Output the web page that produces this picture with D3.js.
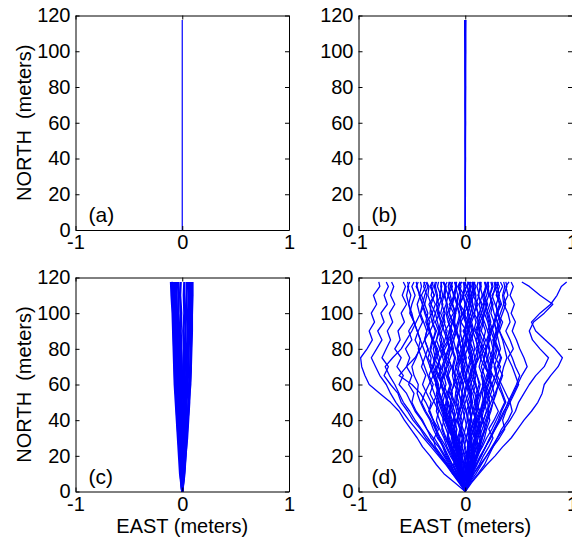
<!DOCTYPE html>
<html>
<head>
<meta charset="utf-8">
<script src="https://cdn.jsdelivr.net/npm/d3@7"></script>
<style>
  html, body { margin: 0; padding: 0; background: #fff; }
  svg { display: block; font-family: "Liberation Sans", Arial, sans-serif; }
</style>
</head>
<body>
<script>
// ---------------- data ----------------
const eastTicks = [-1, 0, 1];
const northTicks = [0, 20, 40, 60, 80, 100, 120];
const panelLabels = ["(a)", "(b)", "(c)", "(d)"];
const eastTitle = "EAST (meters)";
const northTitle = "NORTH  (meters)";

// north positions (m) at which the east offsets are sampled
const coarseLevels = [0, 10, 20, 30, 40, 50, 60, 70, 80, 90, 100, 110, 117.5];
const fineLevels = [0, 5, 10, 15, 20, 25, 30, 35, 40, 45, 50, 55, 60, 65, 70, 75, 80, 85, 90, 95, 100, 105, 110, 115, 117.5];

// (a) east offsets (m), coarse levels
const tracksA = [
  [0, 0, 0, 0, 0, 0, 0, 0, 0, 0, 0, 0, 0]
];

// (b) east offsets (m), coarse levels
const tracksB = [
  [0, 0, 0, -0.001, -0.001, -0.002, -0.002, -0.003, -0.003, -0.004, -0.004, -0.005, -0.005],
  [0, 0, 0.001, 0.001, 0.002, 0.002, 0.003, 0.003, 0.004, 0.004, 0.005, 0.005, 0.006],
  [0, 0, 0, 0, 0.001, 0, 0.001, 0, 0.001, 0, 0.001, 0, 0.001]
];

// (c) east offsets (m), coarse levels
const tracksC = [
  [0, -0.02, -0.03, -0.04, -0.05, -0.06, -0.07, -0.075, -0.08, -0.085, -0.09, -0.1, -0.105],
  [0, 0.02, 0.03, 0.045, 0.055, 0.065, 0.07, 0.08, 0.085, 0.09, 0.09, 0.095, 0.095],
  [0, -0.015, -0.02, -0.03, -0.04, -0.05, -0.065, -0.07, -0.06, -0.075, -0.08, -0.085, -0.09],
  [0, 0.015, 0.025, 0.035, 0.05, 0.06, 0.065, 0.075, 0.08, 0.075, 0.085, 0.09, 0.085],
  [0, -0.01, -0.015, -0.02, -0.03, -0.035, -0.045, -0.05, -0.055, -0.06, -0.065, -0.07, -0.075],
  [0, 0.01, 0.02, 0.025, 0.035, 0.04, 0.05, 0.055, 0.06, 0.065, 0.07, 0.075, 0.08],
  [0, -0.005, -0.01, -0.015, -0.02, -0.025, -0.03, -0.035, -0.04, -0.045, -0.05, -0.055, -0.06],
  [0, 0.005, 0.01, 0.015, 0.02, 0.03, 0.035, 0.04, 0.045, 0.05, 0.055, 0.06, 0.065],
  [0, 0, -0.005, -0.01, -0.01, -0.015, -0.02, -0.02, -0.025, -0.03, -0.035, -0.035, -0.04],
  [0, 0.005, 0.005, 0.01, 0.01, 0.015, 0.02, 0.025, 0.025, 0.03, 0.035, 0.04, 0.045],
  [0, 0, 0, -0.005, 0, -0.005, -0.01, -0.005, -0.01, -0.015, -0.01, -0.02, -0.015],
  [0, 0, 0.005, 0, 0.005, 0.01, 0.005, 0.01, 0.015, 0.01, 0.02, 0.015, 0.02],
  [0, -0.01, -0.02, -0.035, -0.045, -0.055, -0.06, -0.065, -0.075, -0.08, -0.075, -0.09, -0.1],
  [0, 0.015, 0.03, 0.04, 0.05, 0.06, 0.075, 0.08, 0.08, 0.085, 0.09, 0.09, 0.09]
];

// (d) east offsets (m), fine levels
const tracksD = [
  [0,-0.1,-0.2,-0.27,-0.33,-0.4,-0.45,-0.51,-0.57,-0.62,-0.7,-0.8,-0.9,-0.94,-0.97,-0.98,-0.92,-0.87,-0.9,-0.85,-0.88,-0.83,-0.86,-0.8,-0.81],
  [0,-0.05,-0.12,-0.17,-0.24,-0.3,-0.37,-0.42,-0.49,-0.54,-0.6,-0.63,-0.7,-0.76,-0.72,-0.78,-0.74,-0.7,-0.73,-0.68,-0.71,-0.66,-0.7,-0.67,-0.69],
  [0,-0.04,-0.09,-0.15,-0.2,-0.25,-0.32,-0.36,-0.41,-0.47,-0.51,-0.55,-0.62,-0.58,-0.64,-0.6,-0.66,-0.61,-0.63,-0.57,-0.6,-0.55,-0.59,-0.56,-0.58],
  [0,0.06,0.13,0.2,0.28,0.35,0.43,0.49,0.55,0.62,0.68,0.72,0.74,0.8,0.87,0.91,0.84,0.75,0.66,0.62,0.7,0.8,0.86,0.9,0.95],
  [0,0.04,0.1,0.15,0.2,0.26,0.3,0.36,0.42,0.47,0.5,0.55,0.6,0.66,0.74,0.78,0.7,0.63,0.6,0.64,0.74,0.82,0.7,0.6,0.53],
  [0,0.03,0.08,0.14,0.2,0.25,0.3,0.34,0.4,0.44,0.42,0.46,0.5,0.47,0.44,0.4,0.45,0.42,0.38,0.42,0.4,0.36,0.4,0.38,0.41],
  [0,0.05,0.12,0.18,0.22,0.26,0.32,0.37,0.35,0.38,0.42,0.38,0.34,0.3,0.33,0.28,0.3,0.26,0.3,0.27,0.31,0.28,0.25,0.3,0.28],
  [0,-0.04,-0.1,-0.16,-0.22,-0.28,-0.3,-0.36,-0.4,-0.46,-0.5,-0.48,-0.53,-0.5,-0.55,-0.52,-0.56,-0.5,-0.53,-0.48,-0.52,-0.5,-0.47,-0.5,-0.48],
  [0,-0.03,-0.07,-0.12,-0.16,-0.2,-0.26,-0.3,-0.33,-0.38,-0.42,-0.45,-0.44,-0.48,-0.5,-0.46,-0.43,-0.47,-0.44,-0.4,-0.43,-0.45,-0.42,-0.46,-0.44],
  [0,-0.05,-0.1,-0.13,-0.18,-0.21,-0.25,-0.28,-0.3,-0.34,-0.32,-0.36,-0.4,-0.37,-0.41,-0.38,-0.35,-0.38,-0.36,-0.33,-0.37,-0.4,-0.38,-0.35,-0.37],
  [0,-0.02,-0.06,-0.09,-0.13,-0.17,-0.2,-0.24,-0.27,-0.25,-0.29,-0.33,-0.3,-0.34,-0.31,-0.35,-0.32,-0.3,-0.33,-0.29,-0.31,-0.28,-0.32,-0.3,-0.31],
  [0,-0.03,-0.05,-0.1,-0.12,-0.15,-0.19,-0.22,-0.2,-0.24,-0.27,-0.25,-0.28,-0.26,-0.3,-0.27,-0.24,-0.27,-0.25,-0.28,-0.24,-0.27,-0.23,-0.26,-0.25],
  [0,-0.02,-0.04,-0.07,-0.1,-0.13,-0.12,-0.16,-0.19,-0.17,-0.21,-0.19,-0.23,-0.2,-0.22,-0.19,-0.23,-0.2,-0.24,-0.21,-0.19,-0.22,-0.2,-0.18,-0.21],
  [0,-0.01,-0.04,-0.06,-0.09,-0.08,-0.11,-0.14,-0.12,-0.15,-0.13,-0.17,-0.14,-0.16,-0.13,-0.16,-0.14,-0.17,-0.15,-0.12,-0.15,-0.13,-0.16,-0.14,-0.15],
  [0,-0.02,-0.03,-0.05,-0.07,-0.06,-0.09,-0.08,-0.1,-0.12,-0.1,-0.13,-0.11,-0.09,-0.12,-0.1,-0.13,-0.11,-0.08,-0.11,-0.09,-0.12,-0.1,-0.08,-0.1],
  [0,-0.01,-0.02,-0.04,-0.03,-0.05,-0.07,-0.05,-0.08,-0.06,-0.09,-0.07,-0.05,-0.08,-0.06,-0.04,-0.07,-0.05,-0.08,-0.06,-0.03,-0.06,-0.04,-0.07,-0.05],
  [0,0.01,-0.01,-0.02,0,-0.03,-0.01,-0.04,-0.02,0,-0.03,-0.01,0.01,-0.02,0,-0.03,-0.01,0.02,-0.01,0.01,-0.02,0,0.02,-0.01,0],
  [0,0.01,0.03,0.02,0.04,0.03,0.05,0.03,0.06,0.04,0.02,0.05,0.03,0.06,0.04,0.07,0.05,0.03,0.06,0.04,0.07,0.05,0.03,0.05,0.04],
  [0,0.02,0.03,0.05,0.07,0.06,0.09,0.08,0.11,0.09,0.12,0.1,0.13,0.11,0.09,0.12,0.1,0.13,0.11,0.14,0.12,0.1,0.13,0.11,0.12],
  [0,0.02,0.05,0.07,0.1,0.12,0.11,0.14,0.16,0.14,0.17,0.19,0.16,0.18,0.15,0.18,0.2,0.17,0.19,0.16,0.18,0.21,0.18,0.2,0.19],
  [0,0.03,0.06,0.09,0.12,0.15,0.18,0.2,0.23,0.21,0.24,0.27,0.25,0.22,0.25,0.23,0.26,0.24,0.21,0.24,0.22,0.25,0.23,0.26,0.25],
  [0,0.03,0.07,0.11,0.15,0.19,0.23,0.27,0.31,0.34,0.38,0.35,0.32,0.35,0.31,0.34,0.3,0.27,0.31,0.33,0.3,0.34,0.31,0.35,0.33],
  [0,-0.02,0.01,-0.01,0.02,0.04,0.01,-0.02,-0.05,-0.03,0,0.03,0.01,-0.02,-0.04,-0.01,0.02,0.05,0.03,0,-0.03,-0.05,-0.02,0.01,0],
  [0,0.03,0.05,0.04,0.07,0.06,0.03,0.05,0.08,0.11,0.09,0.12,0.1,0.07,0.09,0.13,0.15,0.12,0.1,0.14,0.17,0.15,0.12,0.14,0.13],
  [0,-0.03,-0.02,-0.05,-0.04,-0.07,-0.09,-0.08,-0.11,-0.1,-0.13,-0.16,-0.14,-0.17,-0.15,-0.18,-0.21,-0.19,-0.17,-0.2,-0.23,-0.21,-0.24,-0.22,-0.23],
  [0,0.02,0.05,0.07,0.06,0.09,0.12,0.14,0.13,0.16,0.19,0.18,0.21,0.24,0.22,0.25,0.27,0.26,0.29,0.27,0.24,0.26,0.23,0.25,0.24],
  [0,-0.02,-0.04,-0.03,-0.06,-0.09,-0.11,-0.1,-0.13,-0.16,-0.18,-0.17,-0.2,-0.23,-0.25,-0.24,-0.27,-0.3,-0.28,-0.31,-0.33,-0.32,-0.35,-0.34,-0.36],
  [0,0.02,0.05,0.09,0.06,0.11,0.15,0.12,0.17,0.14,0.1,0.13,0.09,0.05,0.08,0.03,0.07,0.02,-0.02,0.03,-0.01,0.04,0,0.05,0.02],
  [0,-0.03,-0.07,-0.11,-0.08,-0.13,-0.17,-0.14,-0.19,-0.15,-0.11,-0.14,-0.1,-0.06,-0.09,-0.04,-0.08,-0.03,0.01,-0.04,0,-0.05,-0.01,-0.06,-0.03],
  [0,0.04,0.08,0.13,0.17,0.22,0.26,0.22,0.27,0.31,0.27,0.23,0.19,0.23,0.18,0.14,0.18,0.13,0.09,0.13,0.08,0.12,0.07,0.1,0.08],
  [0,-0.04,-0.09,-0.14,-0.19,-0.24,-0.29,-0.25,-0.3,-0.34,-0.3,-0.26,-0.22,-0.26,-0.21,-0.17,-0.21,-0.16,-0.12,-0.16,-0.11,-0.15,-0.1,-0.14,-0.12],
  [0,0.03,0.06,0.1,0.15,0.19,0.24,0.28,0.33,0.37,0.4,0.44,0.48,0.51,0.47,0.44,0.4,0.36,0.32,0.35,0.3,0.33,0.29,0.32,0.3],
  [0,-0.05,-0.11,-0.17,-0.23,-0.29,-0.35,-0.41,-0.47,-0.52,-0.58,-0.62,-0.66,-0.71,-0.75,-0.68,-0.6,-0.55,-0.5,-0.46,-0.42,-0.38,-0.41,-0.37,-0.39],
  [0,-0.06,-0.12,-0.18,-0.25,-0.32,-0.39,-0.46,-0.53,-0.59,-0.65,-0.7,-0.74,-0.8,-0.84,-0.88,-0.83,-0.78,-0.82,-0.76,-0.79,-0.73,-0.76,-0.72,-0.74],
  [0,0.02,0.06,0.1,0.14,0.19,0.23,0.28,0.32,0.36,0.41,0.45,0.49,0.53,0.58,0.55,0.51,0.48,0.44,0.47,0.43,0.46,0.42,0.45,0.43],
  [0,0.01,0.04,0.08,0.11,0.16,0.2,0.25,0.29,0.33,0.37,0.34,0.3,0.26,0.22,0.2,0.16,0.19,0.15,0.17,0.13,0.16,0.12,0.15,0.14],
  [0,-0.02,-0.05,-0.09,-0.14,-0.18,-0.23,-0.28,-0.32,-0.37,-0.41,-0.38,-0.34,-0.3,-0.27,-0.23,-0.19,-0.15,-0.19,-0.14,-0.17,-0.13,-0.16,-0.12,-0.14],
  [0,0.01,0.02,0,0.01,0.03,0.05,0.04,0.02,0.03,0.06,0.05,0.03,0.04,0.07,0.06,0.04,0.02,0.03,0.01,-0.01,0,-0.02,-0.01,-0.02],
  [0,-0.01,-0.02,-0.01,-0.03,-0.04,-0.03,-0.05,-0.07,-0.06,-0.04,-0.06,-0.08,-0.1,-0.09,-0.07,-0.08,-0.06,-0.04,-0.05,-0.03,-0.05,-0.04,-0.06,-0.05],
  [0,0.02,0.04,0.03,0.06,0.08,0.07,0.1,0.08,0.11,0.09,0.07,0.1,0.08,0.06,0.09,0.07,0.04,0.08,0.06,0.09,0.07,0.05,0.08,0.06],
  [0,-0.02,-0.04,-0.07,-0.05,-0.09,-0.12,-0.1,-0.14,-0.18,-0.16,-0.2,-0.23,-0.21,-0.25,-0.29,-0.26,-0.3,-0.27,-0.31,-0.28,-0.32,-0.29,-0.33,-0.31],
  [0,0.02,0.01,0.04,0.03,0.06,0.05,0.08,0.06,0.04,0.07,0.05,0.08,0.1,0.08,0.11,0.13,0.1,0.14,0.12,0.15,0.18,0.16,0.2,0.18],
  [0,-0.03,-0.08,-0.12,-0.17,-0.2,-0.24,-0.27,-0.3,-0.33,-0.37,-0.42,-0.5,-0.62,-0.55,-0.47,-0.42,-0.38,-0.33,-0.36,-0.31,-0.34,-0.29,-0.32,-0.3],
  [0,0.02,0.04,0.07,0.09,0.08,0.1,0.13,0.12,0.15,0.18,0.2,0.19,0.22,0.2,0.17,0.15,0.16,0.13,0.11,0.12,0.09,0.1,0.08,0.09],
  [0,-0.02,-0.03,-0.06,-0.08,-0.07,-0.1,-0.13,-0.15,-0.14,-0.17,-0.19,-0.22,-0.24,-0.23,-0.26,-0.28,-0.31,-0.33,-0.35,-0.38,-0.4,-0.43,-0.45,-0.46],
  [0,0.01,0.03,0.06,0.05,0.08,0.1,0.09,0.12,0.15,0.17,0.16,0.19,0.21,0.24,0.27,0.26,0.29,0.31,0.3,0.33,0.36,0.35,0.37,0.36],
  [0,-0.01,0.01,0.03,0.02,0,-0.02,-0.04,-0.03,-0.06,-0.08,-0.07,-0.1,-0.12,-0.11,-0.09,-0.12,-0.14,-0.13,-0.16,-0.18,-0.17,-0.2,-0.19,-0.21],
  [0,0.02,0.01,-0.01,0.01,0.04,0.06,0.05,0.03,0.01,-0.01,-0.03,-0.02,-0.05,-0.07,-0.06,-0.04,-0.06,-0.09,-0.11,-0.1,-0.12,-0.11,-0.13,-0.12],
  [0,-0.02,-0.05,-0.07,-0.06,-0.04,-0.02,0,0.02,0.01,0.04,0.06,0.05,0.08,0.1,0.09,0.12,0.14,0.13,0.16,0.18,0.17,0.2,0.22,0.21],
  [0,0.03,0.06,0.08,0.11,0.14,0.13,0.16,0.19,0.22,0.21,0.24,0.27,0.3,0.28,0.25,0.22,0.2,0.23,0.21,0.18,0.2,0.17,0.19,0.18],
  [0,-0.03,-0.06,-0.09,-0.11,-0.14,-0.17,-0.16,-0.19,-0.22,-0.25,-0.24,-0.27,-0.3,-0.33,-0.32,-0.35,-0.38,-0.36,-0.39,-0.42,-0.4,-0.43,-0.41,-0.42],
  [0,0.01,0,0.02,0.04,0.03,0.01,0.03,0.05,0.07,0.06,0.04,0.02,0,0.02,-0.01,-0.03,-0.02,0,0.02,0.05,0.07,0.06,0.08,0.07],
  [0,-0.01,-0.03,-0.02,-0.04,-0.06,-0.05,-0.03,-0.05,-0.08,-0.1,-0.09,-0.07,-0.05,-0.02,-0.04,-0.01,0.01,0,0.03,0.02,0.05,0.04,0.02,0.03],
  [0,0.02,0.04,0.06,0.05,0.07,0.09,0.11,0.1,0.07,0.05,0.06,0.03,0.01,-0.02,-0.04,-0.03,-0.06,-0.08,-0.1,-0.09,-0.12,-0.14,-0.16,-0.15],
  [0,-0.02,-0.04,-0.06,-0.09,-0.12,-0.15,-0.18,-0.21,-0.2,-0.23,-0.21,-0.18,-0.2,-0.17,-0.14,-0.11,-0.13,-0.1,-0.07,-0.05,-0.08,-0.06,-0.04,-0.05],
  [0,0.02,0.05,0.08,0.11,0.14,0.16,0.19,0.21,0.24,0.26,0.29,0.31,0.34,0.36,0.39,0.37,0.35,0.32,0.3,0.27,0.25,0.23,0.21,0.22],
  [0,-0.01,-0.02,-0.04,-0.07,-0.1,-0.13,-0.12,-0.15,-0.18,-0.21,-0.24,-0.27,-0.3,-0.33,-0.36,-0.39,-0.42,-0.45,-0.48,-0.51,-0.53,-0.55,-0.53,-0.54],
  [0,0.01,0.02,0.01,0.03,0.05,0.04,0.06,0.09,0.11,0.13,0.15,0.17,0.2,0.23,0.21,0.19,0.22,0.25,0.28,0.3,0.29,0.32,0.3,0.31],
  [0,0.03,0.02,0.05,0.08,0.1,0.09,0.06,0.04,0.07,0.09,0.12,0.14,0.11,0.08,0.06,0.09,0.07,0.04,0.02,0.05,0.03,0.06,0.04,0.05],
  [0,-0.02,-0.01,-0.04,-0.07,-0.05,-0.08,-0.11,-0.09,-0.12,-0.14,-0.12,-0.15,-0.18,-0.2,-0.18,-0.15,-0.17,-0.2,-0.22,-0.25,-0.27,-0.26,-0.28,-0.27],
  [0,0.01,0.04,0.06,0.04,0.02,0.05,0.08,0.1,0.13,0.11,0.14,0.17,0.15,0.18,0.21,0.23,0.21,0.24,0.22,0.2,0.23,0.26,0.28,0.27],
  [0,-0.03,-0.05,-0.04,-0.02,-0.05,-0.07,-0.1,-0.08,-0.05,-0.03,-0.06,-0.04,-0.01,-0.03,-0.06,-0.09,-0.11,-0.14,-0.12,-0.15,-0.17,-0.19,-0.18,-0.2],
  [0,0.02,0.04,0.03,0.01,-0.01,0.01,0.03,0.06,0.05,0.02,0,-0.02,0.01,0.03,0.05,0.03,0.06,0.08,0.1,0.08,0.11,0.09,0.07,0.08],
  [0,-0.01,-0.04,-0.06,-0.09,-0.11,-0.1,-0.13,-0.11,-0.08,-0.06,-0.09,-0.07,-0.1,-0.13,-0.16,-0.14,-0.11,-0.09,-0.12,-0.1,-0.08,-0.11,-0.09,-0.1],
  [0,0.02,0.05,0.08,0.1,0.13,0.16,0.18,0.17,0.2,0.23,0.21,0.18,0.16,0.13,0.15,0.12,0.1,0.07,0.05,0.03,0,-0.02,0.01,-0.01],
  [0,-0.02,-0.05,-0.08,-0.1,-0.13,-0.11,-0.14,-0.17,-0.2,-0.22,-0.25,-0.23,-0.2,-0.17,-0.19,-0.16,-0.13,-0.15,-0.12,-0.09,-0.07,-0.1,-0.08,-0.09],
  [0,0.01,0.03,0.05,0.08,0.07,0.05,0.08,0.11,0.14,0.16,0.19,0.22,0.25,0.23,0.26,0.29,0.27,0.24,0.27,0.29,0.32,0.3,0.28,0.29],
  [0,-0.02,-0.04,-0.03,-0.06,-0.08,-0.11,-0.14,-0.16,-0.19,-0.21,-0.24,-0.26,-0.29,-0.31,-0.28,-0.3,-0.27,-0.24,-0.26,-0.28,-0.25,-0.27,-0.29,-0.28],
  [0,0.01,-0.01,0.01,0.03,0.02,0.04,0.02,0,-0.02,-0.04,-0.03,-0.05,-0.03,-0.01,0.01,-0.01,-0.03,-0.05,-0.04,-0.06,-0.08,-0.07,-0.09,-0.08],
  [0,0.03,0.05,0.08,0.11,0.13,0.15,0.14,0.17,0.2,0.18,0.21,0.24,0.22,0.19,0.17,0.2,0.23,0.21,0.18,0.15,0.13,0.16,0.14,0.15],
  [0,-0.03,-0.06,-0.08,-0.11,-0.13,-0.16,-0.15,-0.18,-0.21,-0.24,-0.27,-0.25,-0.28,-0.26,-0.23,-0.21,-0.24,-0.22,-0.19,-0.21,-0.18,-0.16,-0.19,-0.17],
  [0,0.01,0.03,0.02,0.04,0.07,0.09,0.12,0.1,0.08,0.11,0.09,0.06,0.04,0.07,0.05,0.02,0,0.03,0.05,0.03,0.01,0.04,0.02,0.03],
  [0,-0.01,-0.03,-0.05,-0.04,-0.07,-0.09,-0.12,-0.15,-0.13,-0.16,-0.19,-0.22,-0.25,-0.28,-0.3,-0.33,-0.31,-0.34,-0.37,-0.35,-0.38,-0.36,-0.39,-0.38],
  [0,0.02,0.03,0.06,0.08,0.11,0.1,0.12,0.15,0.17,0.2,0.22,0.25,0.28,0.3,0.33,0.31,0.28,0.26,0.23,0.21,0.19,0.22,0.2,0.21],
  [0,-0.02,-0.01,0.01,-0.01,-0.03,-0.06,-0.04,-0.07,-0.05,-0.02,0,0.02,0.04,0.02,0,-0.02,0,0.02,0.05,0.07,0.05,0.08,0.06,0.07],
  [0,-0.03,-0.06,-0.09,-0.12,-0.15,-0.18,-0.21,-0.24,-0.27,-0.26,-0.29,-0.32,-0.35,-0.38,-0.41,-0.44,-0.42,-0.45,-0.48,-0.5,-0.53,-0.51,-0.54,-0.52],
  [0,0.02,0.04,0.07,0.1,0.12,0.15,0.18,0.2,0.23,0.26,0.28,0.31,0.29,0.27,0.3,0.33,0.31,0.29,0.32,0.35,0.38,0.36,0.39,0.38],
  [0,-0.01,-0.02,-0.05,-0.07,-0.1,-0.12,-0.15,-0.17,-0.2,-0.18,-0.15,-0.13,-0.16,-0.19,-0.21,-0.24,-0.22,-0.25,-0.23,-0.26,-0.24,-0.21,-0.23,-0.22]
];

// ---------------- layout ----------------
const W = 572, H = 548;
const panels = [
  { left: 75.5,  top: 15.5,  w: 213.5, h: 214.5, tracks: tracksA, levels: coarseLevels, lw: 1.2, yTitle: true,  xTitle: false },
  { left: 358.5, top: 15.5,  w: 213.5, h: 214.5, tracks: tracksB, levels: coarseLevels, lw: 1.4, yTitle: false, xTitle: false },
  { left: 75.5,  top: 277.5, w: 213.5, h: 214,   tracks: tracksC, levels: coarseLevels, lw: 2.4, yTitle: true,  xTitle: true },
  { left: 358.5, top: 277.5, w: 213.5, h: 214,   tracks: tracksD, levels: fineLevels,   lw: 1.3, yTitle: false, xTitle: true }
];

const svg = d3.select("body").append("svg")
  .attr("width", W).attr("height", H)
  .attr("viewBox", `0 0 ${W} ${H}`);

svg.append("rect").attr("width", W).attr("height", H).attr("fill", "#fff");

const plain = d => String(d);

panels.forEach((p, i) => {
  const x = d3.scaleLinear().domain([-1, 1]).range([p.left, p.left + p.w]);
  const y = d3.scaleLinear().domain([0, 120]).range([p.top + p.h, p.top]);

  const g = svg.append("g");

  const clipId = "clip" + i;
  svg.append("clipPath").attr("id", clipId)
    .append("rect").attr("x", p.left).attr("y", p.top).attr("width", p.w).attr("height", p.h);

  const line = d3.line()
    .x(d => x(d[0]))
    .y(d => y(d[1]));
  g.append("g").attr("clip-path", `url(#${clipId})`)
    .selectAll("path")
    .data(p.tracks)
    .join("path")
    .attr("d", t => line(t.map((e, k) => [e, p.levels[k]])))
    .attr("fill", "none")
    .attr("stroke", "#0000ff")
    .attr("stroke-width", p.lw)
    .attr("stroke-linejoin", "round");

  const styleAxis = sel => {
    sel.selectAll("path.domain").attr("stroke", "#000").attr("stroke-width", 1).attr("fill", "none");
    sel.selectAll(".tick line").attr("stroke", "#000").attr("stroke-width", 1);
    sel.selectAll(".tick text").attr("fill", "#000").attr("font-size", 20)
      .attr("font-family", "'Liberation Sans', Arial, sans-serif");
  };

  g.append("g").attr("transform", `translate(0,${p.top + p.h})`)
    .call(d3.axisBottom(x).tickValues(eastTicks).tickFormat(plain)
      .tickSize(-4).tickSizeOuter(0).tickPadding(5))
    .call(styleAxis);
  g.append("g").attr("transform", `translate(0,${p.top})`)
    .call(d3.axisTop(x).tickValues(eastTicks).tickFormat("")
      .tickSize(-4).tickSizeOuter(0))
    .call(styleAxis);
  g.append("g").attr("transform", `translate(${p.left},0)`)
    .call(d3.axisLeft(y).tickValues(northTicks).tickFormat(plain)
      .tickSize(-4).tickSizeOuter(0).tickPadding(5))
    .call(styleAxis);
  g.append("g").attr("transform", `translate(${p.left + p.w},0)`)
    .call(d3.axisRight(y).tickValues(northTicks).tickFormat("")
      .tickSize(-4).tickSizeOuter(0))
    .call(styleAxis);

  g.append("text")
    .attr("x", p.left + 13)
    .attr("y", p.top + p.h - 8)
    .attr("font-size", 21)
    .attr("fill", "#000")
    .text(panelLabels[i]);

  if (p.yTitle) {
    g.append("text")
      .attr("transform", `translate(31,${p.top + p.h / 2}) rotate(-90)`)
      .attr("text-anchor", "middle")
      .attr("font-size", 20)
      .attr("fill", "#000")
      .style("white-space", "pre")
      .text(northTitle);
  }
  if (p.xTitle) {
    g.append("text")
      .attr("x", p.left + p.w / 2)
      .attr("y", 532.5)
      .attr("text-anchor", "middle")
      .attr("font-size", 20)
      .attr("fill", "#000")
      .text(eastTitle);
  }
});
</script>
</body>
</html>
